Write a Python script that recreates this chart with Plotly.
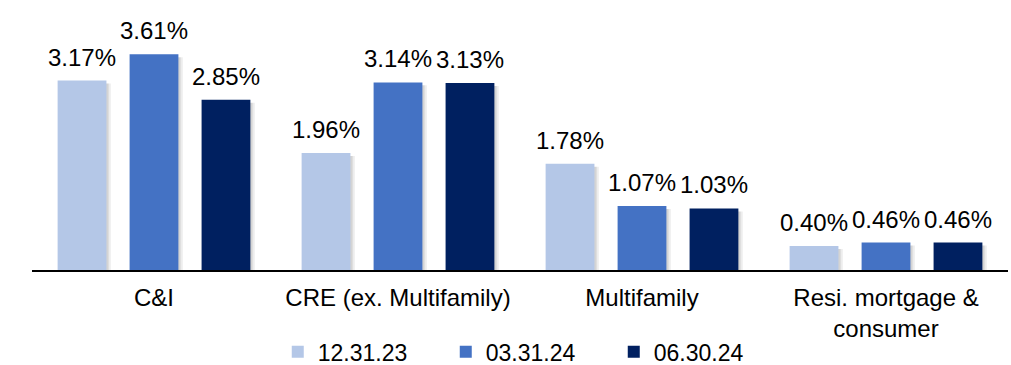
import plotly.graph_objects as go

categories = ["C&I", "CRE (ex. Multifamily)", "Multifamily", "Resi. mortgage &<br>consumer"]
series_names = ["12.31.23", "03.31.24", "06.30.24"]
values_1231 = [3.17, 1.96, 1.78, 0.40]
values_0331 = [3.61, 3.14, 1.07, 0.46]
values_0630 = [2.85, 3.13, 1.03, 0.46]
colors = ["#B4C7E7", "#4472C4", "#002060"]

FONT = "Liberation Sans, Arial, sans-serif"

# bar geometry in category units
SLOT = 0.295        # distance between bar centres inside a group
BAR_W = 0.20        # bar width
SHADOW_DX = 0.018   # soft drop shadow offset to the right
SHADOW_DY = 0.05    # shadow top sits a little below the bar top

fig = go.Figure()
all_series = list(zip(series_names, [values_1231, values_0331, values_0630], colors))

# drop shadows underneath the bars
for i, (name, vals, col) in enumerate(all_series):
    centre = (i - 1) * SLOT
    for k, alpha in ((1.0, 0.10), (2.0, 0.07)):
        fig.add_trace(go.Bar(
            x=categories,
            y=[v - SHADOW_DY for v in vals],
            width=BAR_W,
            offset=centre - BAR_W / 2 + k * SHADOW_DX / 2,
            marker=dict(color=f"rgba(0,0,0,{alpha})", line=dict(width=0)),
            showlegend=False,
            hoverinfo="skip",
        ))

# the bars themselves
for i, (name, vals, col) in enumerate(all_series):
    centre = (i - 1) * SLOT
    fig.add_trace(go.Bar(
        name=name,
        x=categories,
        y=vals,
        width=BAR_W,
        offset=centre - BAR_W / 2,
        marker=dict(color=col, line=dict(width=0)),
    ))

# value labels above each bar
annotations = []
for i, (name, vals, col) in enumerate(all_series):
    centre = (i - 1) * SLOT
    for j, v in enumerate(vals):
        annotations.append(dict(
            x=j + centre, y=v, xref="x", yref="y",
            text=f"{v:.2f}%",
            showarrow=False,
            yanchor="bottom", xanchor="center",
            yshift=8,
            font=dict(family=FONT, size=24, color="#000000"),
        ))

fig.update_layout(
    width=1011,
    height=365,
    margin=dict(l=32, r=3, t=31, b=95, autoexpand=False),
    paper_bgcolor="white",
    plot_bgcolor="white",
    barmode="overlay",
    font=dict(family=FONT, size=24, color="#000000"),
    showlegend=True,
    annotations=annotations,
    legend=dict(
        orientation="h",
        x=0.51, xanchor="center",
        yref="container",
        y=0.036, yanchor="middle",
        font=dict(family=FONT, size=23, color="#000000"),
        entrywidth=123,
        itemwidth=30,
        bgcolor="rgba(0,0,0,0)",
    ),
    xaxis=dict(
        showline=True,
        linecolor="#000000",
        linewidth=2,
        showgrid=False,
        ticks="",
        ticklabelstandoff=5,
        tickfont=dict(family=FONT, size=24, color="#000000"),
    ),
    yaxis=dict(
        range=[0, 4.0],
        visible=False,
        showgrid=False,
        zeroline=False,
    ),
)

fig.write_html("out.html")
